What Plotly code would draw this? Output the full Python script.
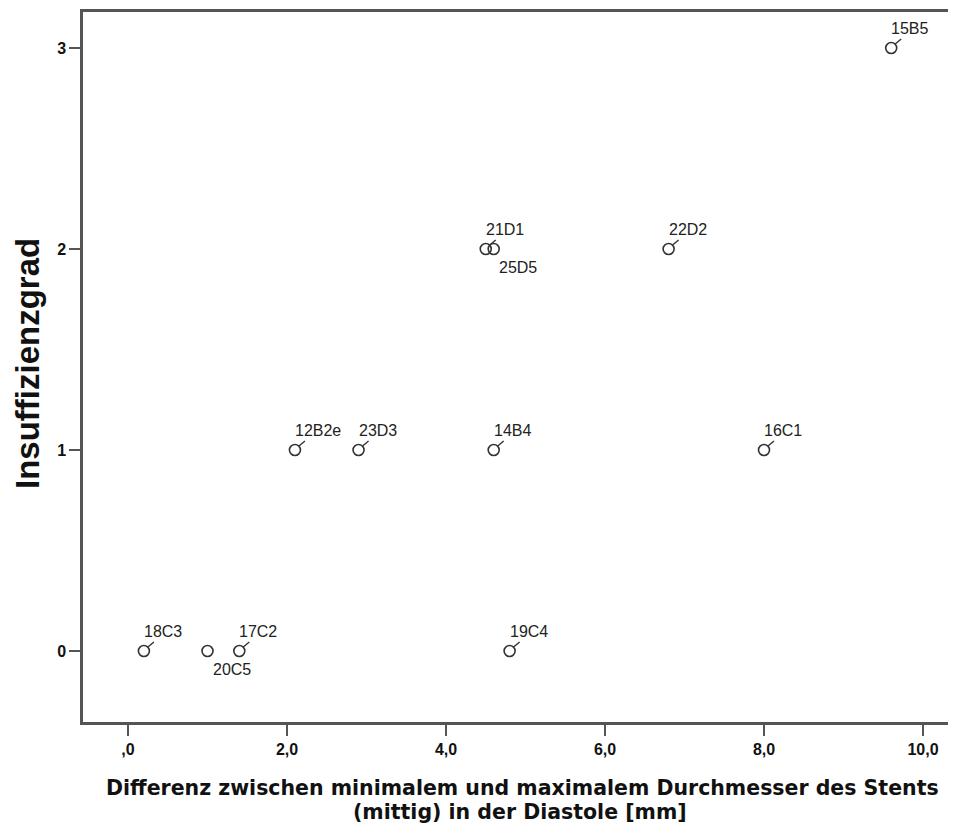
import plotly.graph_objects as go

labels = ["18C3", "20C5", "17C2", "19C4", "12B2e", "23D3", "14B4", "16C1", "21D1", "25D5", "22D2", "15B5"]
x_vals = [0.2, 1.0, 1.4, 4.8, 2.1, 2.9, 4.6, 8.0, 4.5, 4.6, 6.8, 9.6]
y_vals = [0, 0, 0, 0, 1, 1, 1, 1, 2, 2, 2, 3]
label_below = ["20C5", "25D5"]

x_ticks = [0, 2, 4, 6, 8, 10]
x_tick_text = [",0", "2,0", "4,0", "6,0", "8,0", "10,0"]
y_ticks = [0, 1, 2, 3]
y_tick_text = ["0", "1", "2", "3"]

x_title_1 = "Differenz zwischen minimalem und maximalem Durchmesser des Stents"
x_title_2 = "(mittig) in der Diastole [mm]"
y_title = "Insuffizienzgrad"

axis_col = "#555555"
mark_col = "#333333"

# page body has an 8px margin, so the figure is drawn 8px smaller and offsets are compensated
OFF = 8
W, H = 956 - OFF, 827 - OFF
pl, pr, pt = 83 - OFF, 0, 12 - OFF
pb = H - (722 - OFF)
pw, ph = W - pl - pr, H - pt - pb

def px_to_paper(px, py):
    px -= OFF
    py -= OFF
    return (px - pl) / pw, (H - pb - py) / ph

fig = go.Figure()
fig.add_trace(go.Scatter(
    x=x_vals, y=y_vals, mode="markers",
    marker=dict(symbol="circle-open", size=11, color=mark_col, line=dict(width=1.6, color=mark_col)),
    hoverinfo="skip", showlegend=False,
))

lab_font = dict(family="Arial, Liberation Sans", size=16, color="#222222")
annotations = []
shapes = []
for lab, xv, yv in zip(labels, x_vals, y_vals):
    if lab in label_below:
        annotations.append(dict(x=xv, y=yv, xref="x", yref="y", text=lab, showarrow=False,
                                xanchor="left", yanchor="top", xshift=3, yshift=-8, font=lab_font))
    else:
        annotations.append(dict(x=xv, y=yv, xref="x", yref="y", text=lab, showarrow=False,
                                xanchor="left", yanchor="bottom", xshift=-2, yshift=9, font=lab_font))
        shapes.append(dict(type="line", xref="x", yref="y", xsizemode="pixel", ysizemode="pixel",
                           xanchor=xv, yanchor=yv, x0=4, x1=10, y0=4, y1=9,
                           line=dict(color=mark_col, width=1.4)))

title_font = dict(family="DejaVu Sans", size=20.5, color="#111111")
fx, fy = px_to_paper(522, 788)
annotations.append(dict(x=fx, y=fy, xref="paper", yref="paper", text="<b>" + x_title_1 + "</b>",
                        showarrow=False, xanchor="center", yanchor="middle", font=title_font))
fx, fy = px_to_paper(520, 812)
annotations.append(dict(x=fx, y=fy, xref="paper", yref="paper", text="<b>" + x_title_2 + "</b>",
                        showarrow=False, xanchor="center", yanchor="middle", font=title_font))
fx, fy = px_to_paper(27, 364)
annotations.append(dict(x=fx, y=fy, xref="paper", yref="paper", text="<b>" + y_title + "</b>",
                        showarrow=False, xanchor="center", yanchor="middle", textangle=-90,
                        font=dict(family="Arial, Liberation Sans", size=33, color="#111111")))

tick_font = dict(family="Arial, Liberation Sans", size=16, color="#111111", weight="bold")

fig.update_layout(
    width=W, height=H,
    margin=dict(l=pl, r=pr, t=pt, b=pb),
    plot_bgcolor="white", paper_bgcolor="white",
    xaxis=dict(range=[-0.566, 10.415], tickvals=x_ticks, ticktext=x_tick_text,
               showgrid=False, zeroline=False, showline=True, linecolor=axis_col, linewidth=2.5,
               mirror=True, ticks="outside", ticklen=11, tickwidth=2, tickcolor=axis_col,
               tickfont=tick_font),
    yaxis=dict(range=[-0.353, 3.179], tickvals=y_ticks, ticktext=y_tick_text,
               showgrid=False, zeroline=False, showline=True, linecolor=axis_col, linewidth=2.5,
               mirror=False, ticks="outside", ticklen=11, tickwidth=2, tickcolor=axis_col,
               tickfont=tick_font),
    shapes=shapes,
    annotations=annotations,
)

fig.write_html("out.html")
